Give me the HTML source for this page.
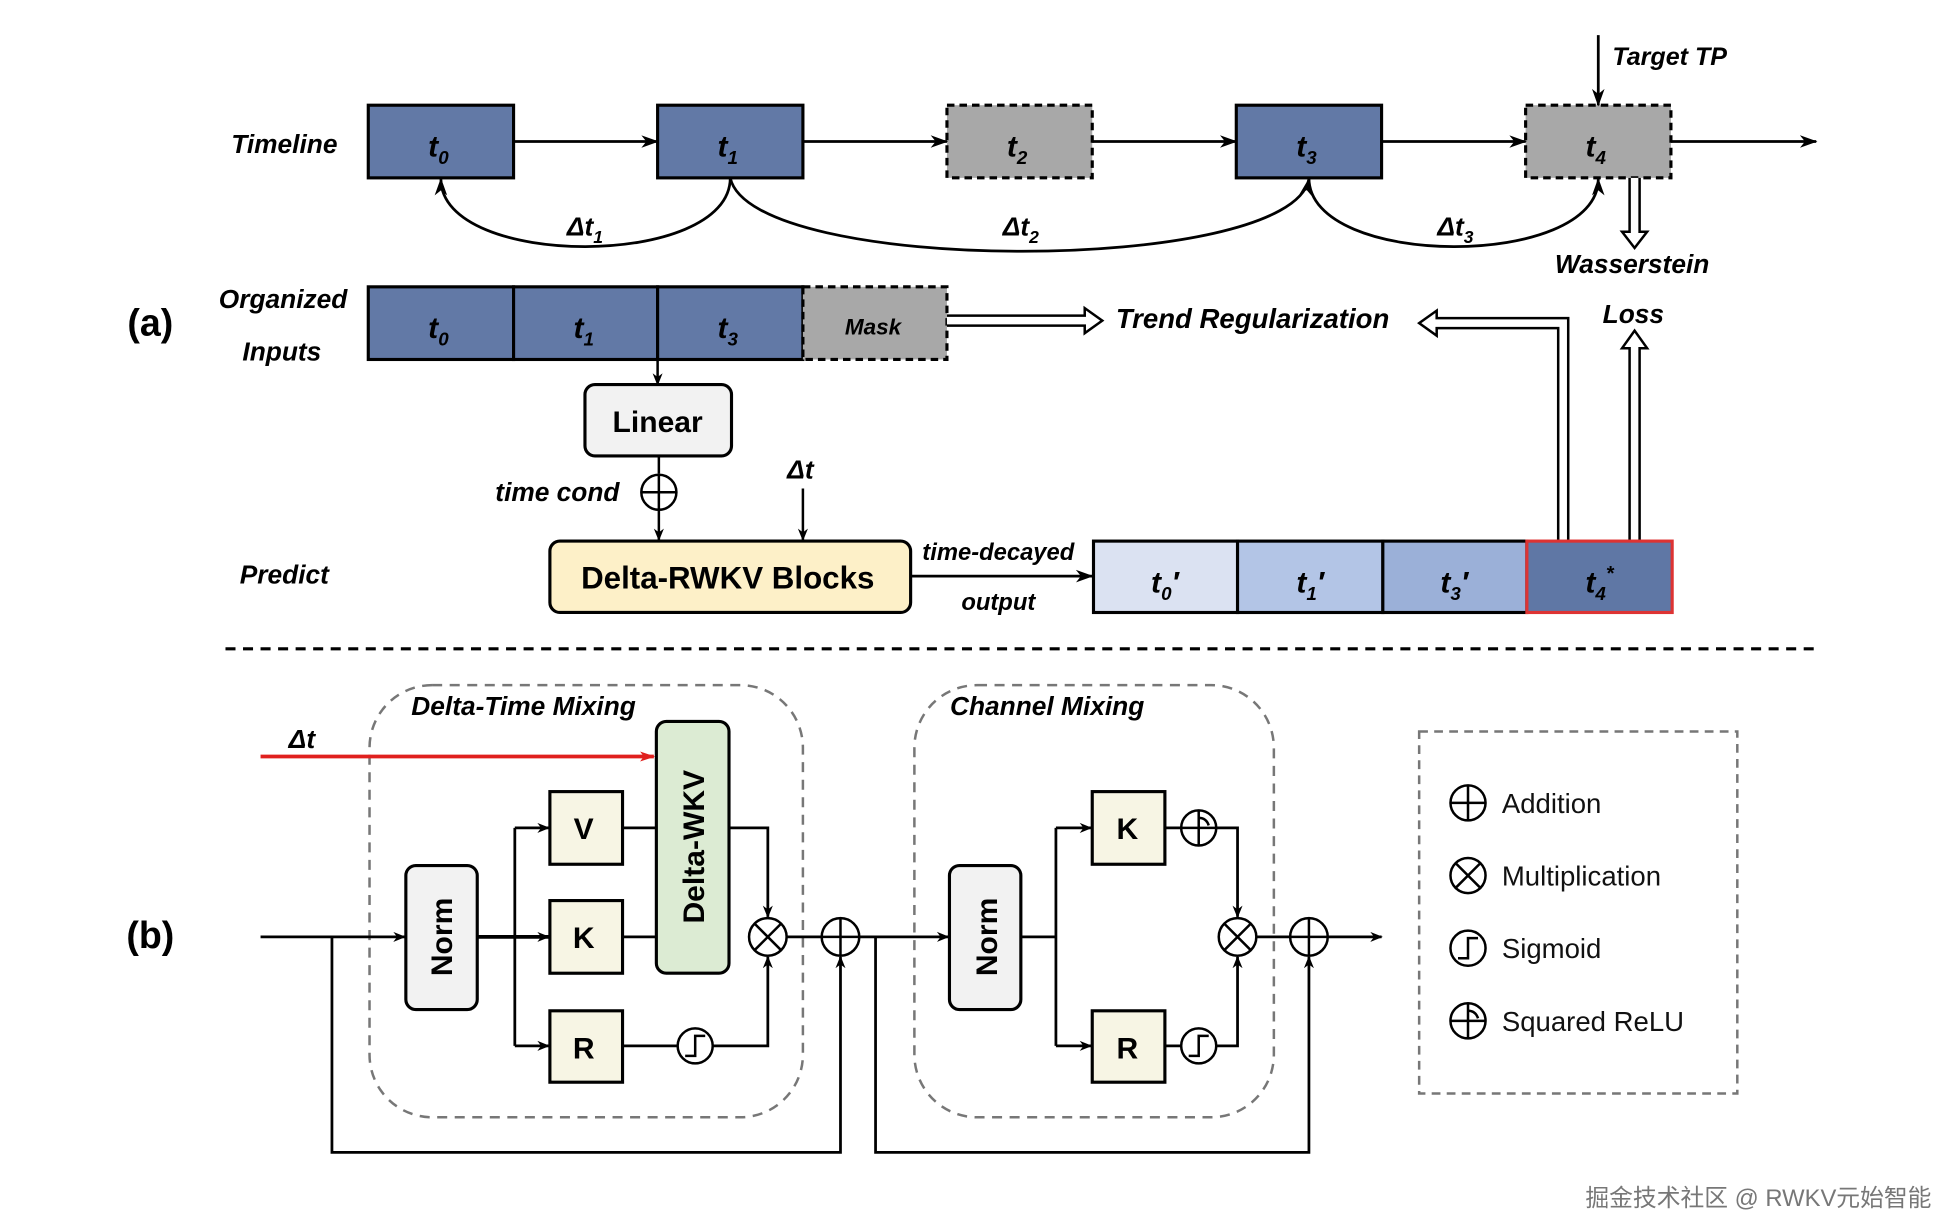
<!DOCTYPE html>
<html><head><meta charset="utf-8"><style>html,body{margin:0;padding:0;background:#fff}svg{display:block}</style></head><body>
<svg width="1944" height="1230" viewBox="0 0 1552 982" xmlns="http://www.w3.org/2000/svg" font-family="Liberation Sans, sans-serif">
<defs>
<marker id="ar" markerWidth="10" markerHeight="10" refX="9" refY="5" orient="auto" markerUnits="userSpaceOnUse"><path d="M0,1 L10,5 L0,9 L3,5z" fill="#000"/></marker>
<marker id="ar2" markerWidth="14" markerHeight="12" refX="13" refY="6" orient="auto" markerUnits="userSpaceOnUse"><path d="M0,1 L14,6 L0,11 L4,6z" fill="#000"/></marker>
<marker id="rr" markerWidth="12" markerHeight="10" refX="11" refY="5" orient="auto" markerUnits="userSpaceOnUse"><path d="M0,1 L12,5 L0,9 L3,5z" fill="#e0201e"/></marker>
</defs>
<g font-weight="bold" font-style="italic" font-size="21" text-anchor="middle">
<!-- Timeline -->
<text x="227" y="122">Timeline</text>
<g stroke="#000" stroke-width="2.5">
<rect x="294" y="84" width="116" height="58" fill="#6279a6"/>
<rect x="525" y="84" width="116" height="58" fill="#6279a6"/>
<rect x="756" y="84" width="116" height="58" fill="#a8a8a8" stroke-dasharray="6,4"/>
<rect x="987" y="84" width="116" height="58" fill="#6279a6"/>
<rect x="1218" y="84" width="116" height="58" fill="#a8a8a8" stroke-dasharray="6,4"/>
</g>
<g stroke="#000" stroke-width="2.2" fill="none" marker-end="url(#ar2)">
<line x1="410" y1="113" x2="525" y2="113"/>
<line x1="641" y1="113" x2="756" y2="113"/>
<line x1="872" y1="113" x2="987" y2="113"/>
<line x1="1103" y1="113" x2="1218" y2="113"/>
<line x1="1334" y1="113" x2="1450" y2="113"/>
<line x1="1276" y1="28" x2="1276" y2="84"/>
<path d="M583,142 C583,215 352,215 352,143"/>
<path d="M583,142 C600,220 1030,220 1045,143"/>
<path d="M1045,142 C1045,215 1276,215 1276,143"/>
</g>
<g font-size="24" fill="#000">
<text x="350" y="125">t<tspan font-size="15" dy="6">0</tspan></text>
<text x="581" y="125">t<tspan font-size="15" dy="6">1</tspan></text>
<text x="812" y="125">t<tspan font-size="15" dy="6">2</tspan></text>
<text x="1043" y="125">t<tspan font-size="15" dy="6">3</tspan></text>
<text x="1274" y="125">t<tspan font-size="15" dy="6">4</tspan></text>
</g>
<text x="467" y="188">Δt<tspan font-size="14" dy="6">1</tspan></text>
<text x="815" y="188">Δt<tspan font-size="14" dy="6">2</tspan></text>
<text x="1162" y="188">Δt<tspan font-size="14" dy="6">3</tspan></text>
<text x="1333" y="52" font-size="20">Target TP</text>
<!-- Wasserstein hollow arrow -->
<path d="M1301,142 L1301,185 L1295,185 L1305,198 L1315,185 L1309,185 L1309,142" fill="#fff" stroke="#000" stroke-width="2"/>
<text x="1303" y="218">Wasserstein</text>
<!-- (a) -->
<text x="120" y="268" font-style="normal" font-size="30">(a)</text>
<text x="226" y="246">Organized</text>
<text x="225" y="288">Inputs</text>
<g stroke="#000" stroke-width="2.5">
<rect x="294" y="229" width="116" height="58" fill="#6279a6"/>
<rect x="410" y="229" width="115" height="58" fill="#6279a6"/>
<rect x="525" y="229" width="116" height="58" fill="#6279a6"/>
<rect x="641" y="229" width="115" height="58" fill="#a8a8a8" stroke-dasharray="6,4"/>
</g>
<g font-size="24">
<text x="350" y="270">t<tspan font-size="15" dy="6">0</tspan></text>
<text x="466" y="270">t<tspan font-size="15" dy="6">1</tspan></text>
<text x="581" y="270">t<tspan font-size="15" dy="6">3</tspan></text>
</g>
<text x="697" y="267" font-size="18">Mask</text>
<!-- Trend double arrow -->
<path d="M756,252 L866,252 L866,246 L880,256 L866,266 L866,260 L756,260" fill="#fff" stroke="#000" stroke-width="2"/>
<text x="1000" y="262" font-size="22">Trend Regularization</text>
<path d="M1252,432 L1252,254 L1147,254 L1147,248 L1133,258 L1147,268 L1147,262 L1244,262 L1244,432" fill="#fff" stroke="#000" stroke-width="2"/>
<text x="1304" y="258">Loss</text>
<path d="M1301,432 L1301,278 L1295,278 L1305,264 L1315,278 L1309,278 L1309,432" fill="#fff" stroke="#000" stroke-width="2"/>
<!-- Linear -->
<line x1="525" y1="287" x2="525" y2="307" stroke="#000" stroke-width="2" marker-end="url(#ar)"/>
<rect x="467" y="307" width="117" height="57" rx="8" fill="#f2f2f2" stroke="#000" stroke-width="2.5"/>
<text x="525" y="345" font-style="normal" font-size="24">Linear</text>
<line x1="526" y1="364" x2="526" y2="378" stroke="#000" stroke-width="2"/>
<circle cx="526" cy="393" r="14" fill="#fff" stroke="#000" stroke-width="2"/>
<path d="M512,393 H540 M526,379 V407" stroke="#000" stroke-width="2"/>
<line x1="526" y1="407" x2="526" y2="431" stroke="#000" stroke-width="2" marker-end="url(#ar)"/>
<text x="445" y="400">time cond</text>
<text x="639" y="382">Δt</text>
<line x1="641" y1="390" x2="641" y2="431" stroke="#000" stroke-width="2" marker-end="url(#ar)"/>
<rect x="439" y="432" width="288" height="57" rx="8" fill="#fdf0c8" stroke="#000" stroke-width="2.5"/>
<text x="581" y="470" font-style="normal" font-size="25">Delta-RWKV Blocks</text>
<text x="227" y="466">Predict</text>
<line x1="727" y1="460" x2="872" y2="460" stroke="#000" stroke-width="2.2" marker-end="url(#ar2)"/>
<text x="797" y="447" font-size="19">time-decayed</text>
<text x="797" y="487" font-size="19">output</text>
<g stroke="#000" stroke-width="2.5">
<rect x="873" y="432" width="115" height="57" fill="#dbe2f2"/>
<rect x="988" y="432" width="116" height="57" fill="#b3c5e6"/>
<rect x="1104" y="432" width="115" height="57" fill="#9bb0d8"/>
</g>
<rect x="1219" y="432" width="116" height="57" fill="#5f77a5" stroke="#d33" stroke-width="2.5"/>
<g font-size="24">
<text x="930" y="473">t<tspan font-size="15" dy="6">0</tspan><tspan dy="-6">′</tspan></text>
<text x="1046" y="473">t<tspan font-size="15" dy="6">1</tspan><tspan dy="-6">′</tspan></text>
<text x="1161" y="473">t<tspan font-size="15" dy="6">3</tspan><tspan dy="-6">′</tspan></text>
<text x="1277" y="473">t<tspan font-size="15" dy="6">4</tspan><tspan font-size="16" dy="-16">*</tspan></text>
</g>
<line x1="180" y1="518" x2="1450" y2="518" stroke="#000" stroke-width="2.5" stroke-dasharray="8,6"/>
<!-- (b) -->
<text x="120" y="757" font-style="normal" font-size="30">(b)</text>
<rect x="295" y="547" width="346" height="345" rx="50" fill="none" stroke="#777" stroke-width="2" stroke-dasharray="8,6"/>
<rect x="730" y="547" width="287" height="345" rx="50" fill="none" stroke="#777" stroke-width="2" stroke-dasharray="8,6"/>
<text x="418" y="571">Delta-Time Mixing</text>
<text x="836" y="571">Channel Mixing</text>
<text x="241" y="597">Δt</text>
<line x1="208" y1="604" x2="522" y2="604" stroke="#e0201e" stroke-width="3" marker-end="url(#rr)"/>
</g>
<g stroke="#000" stroke-width="2.2" fill="none">
<line x1="208" y1="748" x2="323" y2="748" marker-end="url(#ar)"/>
<line x1="381" y1="748" x2="438" y2="748" stroke-width="3" marker-end="url(#ar)"/>
<path d="M411,661 V835"/>
<line x1="411" y1="661" x2="438" y2="661" marker-end="url(#ar)"/>
<line x1="411" y1="835" x2="438" y2="835" marker-end="url(#ar)"/>
<line x1="497" y1="661" x2="524" y2="661"/>
<line x1="497" y1="748" x2="524" y2="748"/>
<path d="M582,661 H613 V732" marker-end="url(#ar)"/>
<path d="M497,835 H541"/>
<path d="M569,835 H613 V764" marker-end="url(#ar)"/>
<line x1="628" y1="748" x2="656" y2="748"/>
<path d="M265,748 V920 H671 V764" marker-end="url(#ar)"/>
<line x1="686" y1="748" x2="757" y2="748" marker-end="url(#ar)"/>
<path d="M699,748 V920 H1045 V764" marker-end="url(#ar)"/>
<line x1="815" y1="748" x2="843" y2="748"/>
<path d="M843,661 V835"/>
<line x1="843" y1="661" x2="871" y2="661" marker-end="url(#ar)"/>
<line x1="843" y1="835" x2="871" y2="835" marker-end="url(#ar)"/>
<path d="M930,661 H943 M971,661 H988 V732" marker-end="url(#ar)"/>
<path d="M930,835 H943 M971,835 H988 V764" marker-end="url(#ar)"/>
<line x1="1003" y1="748" x2="1030" y2="748"/>
<line x1="1060" y1="748" x2="1103" y2="748" marker-end="url(#ar)"/>
</g>
<g stroke="#000" stroke-width="2.5">
<rect x="324" y="691" width="57" height="115" rx="8" fill="#f2f2f2"/>
<rect x="758" y="691" width="57" height="115" rx="8" fill="#f2f2f2"/>
<rect x="439" y="632" width="58" height="58" fill="#f7f5e4"/>
<rect x="439" y="719" width="58" height="58" fill="#f7f5e4"/>
<rect x="439" y="807" width="58" height="57" fill="#f7f5e4"/>
<rect x="872" y="632" width="58" height="58" fill="#f7f5e4"/>
<rect x="872" y="807" width="58" height="57" fill="#f7f5e4"/>
<rect x="524" y="576" width="58" height="201" rx="8" fill="#dcebd3"/>
</g>
<g font-weight="bold" font-size="24" text-anchor="middle">
<text x="466" y="670">V</text><text x="466" y="757">K</text><text x="466" y="845">R</text>
<text x="900" y="670">K</text><text x="900" y="845">R</text>
<text transform="translate(361,748) rotate(-90)">Norm</text>
<text transform="translate(796,748) rotate(-90)">Norm</text>
<text transform="translate(562,676) rotate(-90)">Delta-WKV</text>
</g>
<!-- operator symbols -->
<g stroke="#000" stroke-width="2" fill="#fff">
<g transform="translate(613,748)"><circle r="15"/><path d="M-10.6,-10.6 L10.6,10.6 M-10.6,10.6 L10.6,-10.6"/></g>
<g transform="translate(671,748)"><circle r="15"/><path d="M-15,0 H15 M0,-15 V15"/></g>
<g transform="translate(988,748)"><circle r="15"/><path d="M-10.6,-10.6 L10.6,10.6 M-10.6,10.6 L10.6,-10.6"/></g>
<g transform="translate(1045,748)"><circle r="15"/><path d="M-15,0 H15 M0,-15 V15"/></g>
<g transform="translate(555,835)"><circle r="14"/><path d="M-8,8 H0 V-8 H8" fill="none"/></g>
<g transform="translate(957,835)"><circle r="14"/><path d="M-8,8 H0 V-8 H8" fill="none"/></g>
<g transform="translate(957,661)"><circle r="14"/><path d="M-14,0 H14 M0,-14 V14 M0,-8 Q6,-8 8,-2" fill="none"/></g>
</g>
<!-- legend -->
<rect x="1133" y="584" width="254" height="289" fill="none" stroke="#777" stroke-width="2" stroke-dasharray="7,5"/>
<g stroke="#000" stroke-width="2" fill="#fff">
<g transform="translate(1172,641)"><circle r="14"/><path d="M-14,0 H14 M0,-14 V14"/></g>
<g transform="translate(1172,699)"><circle r="14"/><path d="M-10,-10 L10,10 M-10,10 L10,-10"/></g>
<g transform="translate(1172,757)"><circle r="14"/><path d="M-8,8 H0 V-8 H8" fill="none"/></g>
<g transform="translate(1172,815)"><circle r="14"/><path d="M-14,0 H14 M0,-14 V14 M0,-8 Q6,-8 8,-2" fill="none"/></g>
</g>
<g font-size="22" fill="#111">
<text x="1199" y="649">Addition</text>
<text x="1199" y="707">Multiplication</text>
<text x="1199" y="765">Sigmoid</text>
<text x="1199" y="823">Squared ReLU</text>
</g>
<text x="1542" y="963" text-anchor="end" font-size="19" fill="#777" font-family="Liberation Sans, Noto Sans CJK SC, sans-serif">掘金技术社区 @ RWKV元始智能</text>
</svg>
</body></html>
